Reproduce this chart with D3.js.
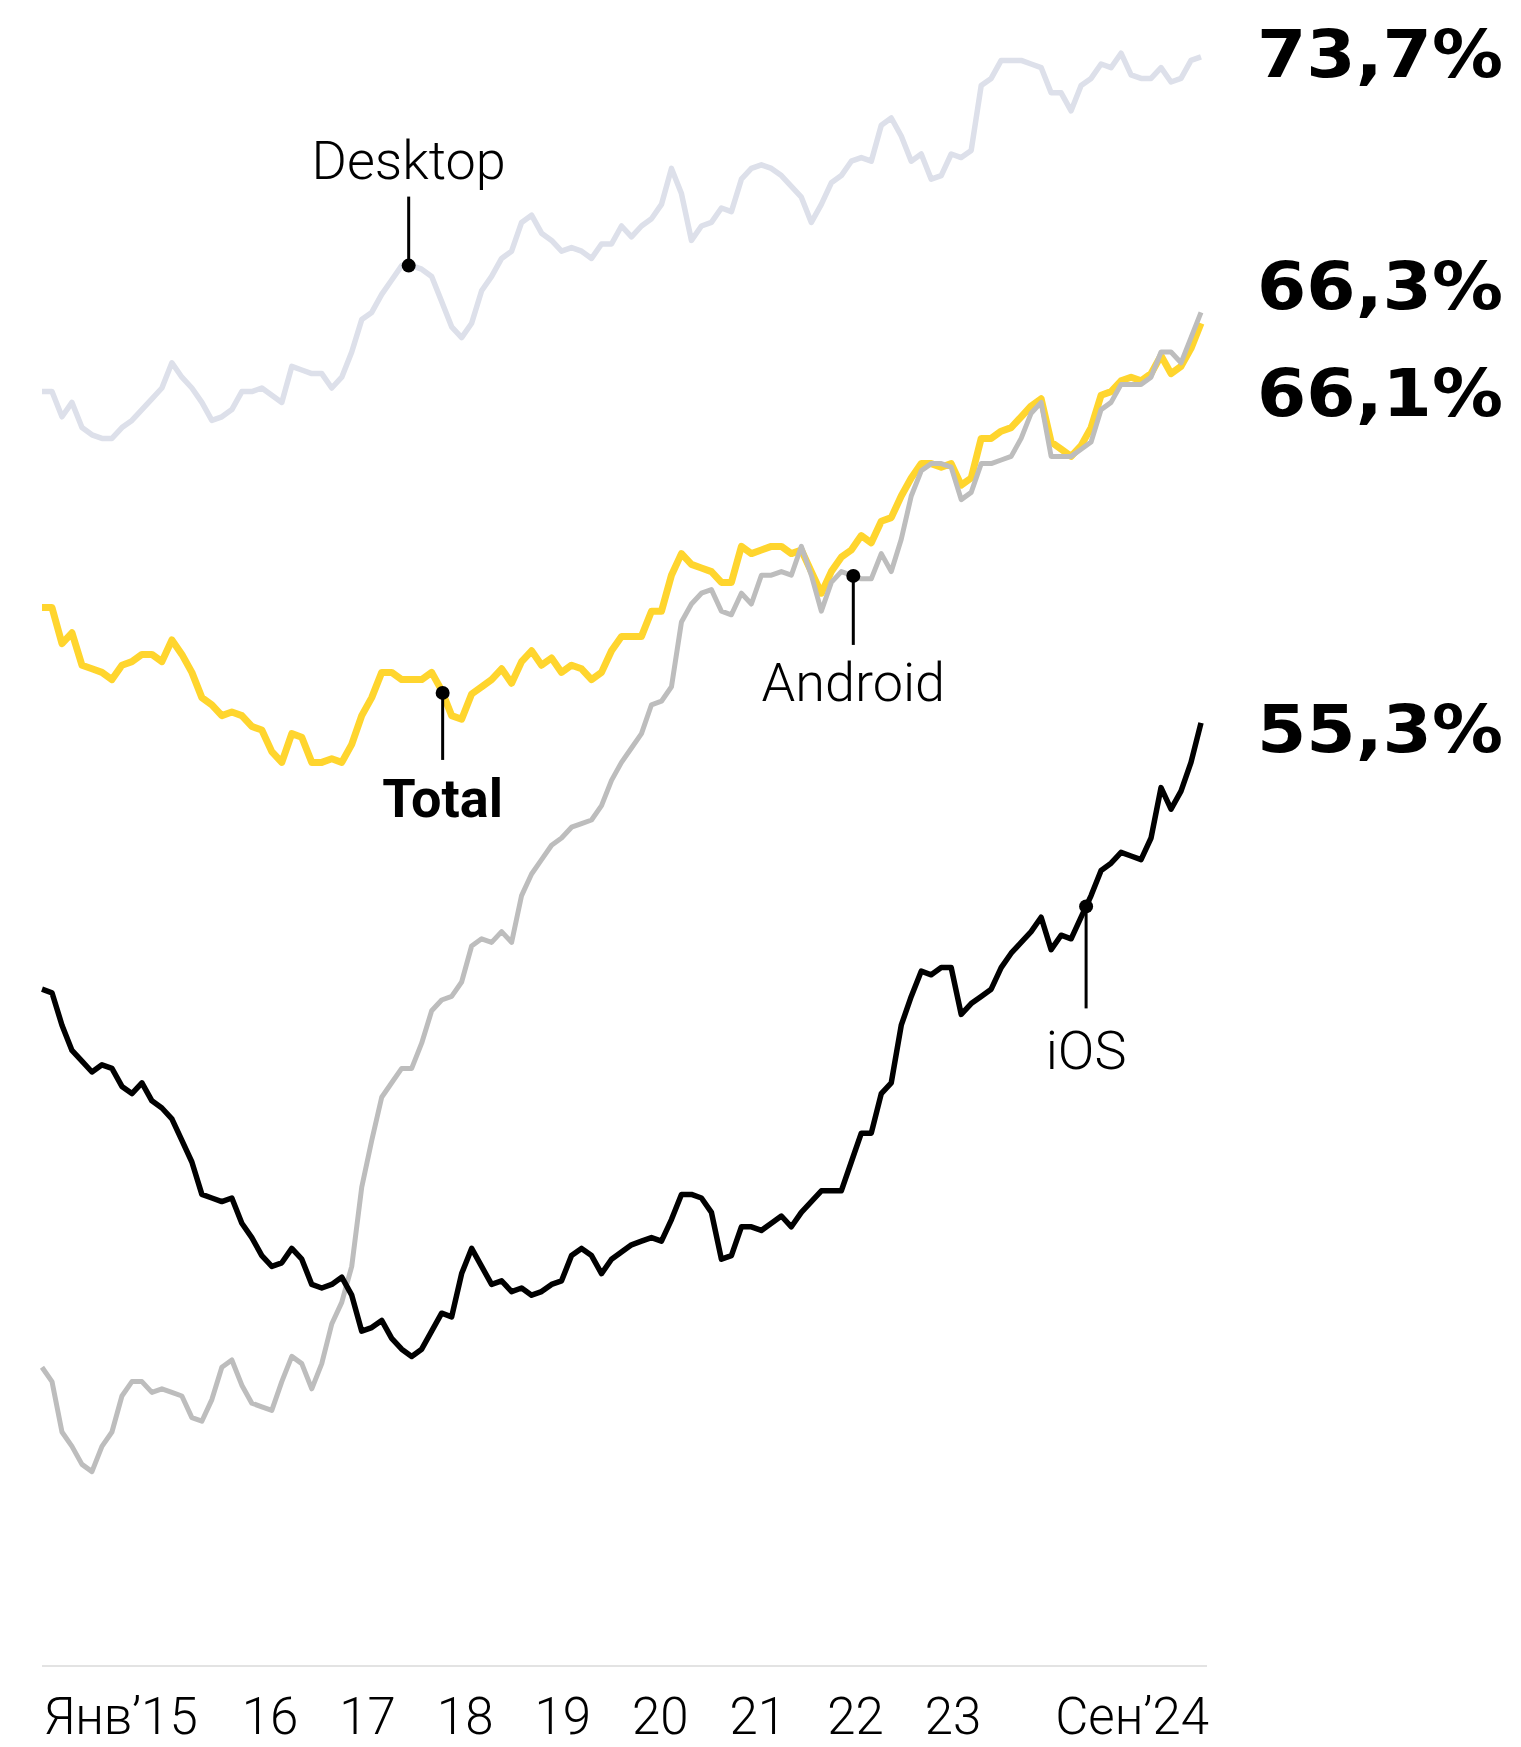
<!DOCTYPE html>
<html>
<head>
<meta charset="utf-8">
<script src="https://cdn.jsdelivr.net/npm/d3@7"></script>
<style>
  html, body { margin: 0; padding: 0; background: #fff; }
  svg { display: block; }
</style>
</head>
<body>
<svg id="chart" width="1521" height="1747"></svg>
<script>
// ---------- DATA (monthly, Jan 2015 – Sep 2024, share in %) ----------
const months = d3.utcMonth.range(new Date(Date.UTC(2015, 0, 1)), new Date(Date.UTC(2024, 9, 1)));

const desktop = [
  64.4,64.4,63.7,64.1,63.4,63.2,63.1,63.1,63.4,63.6,63.9,64.2,
  64.5,65.2,64.8,64.5,64.1,63.6,63.7,63.9,64.4,64.4,64.5,64.3,
  64.1,65.1,65.0,64.9,64.9,64.5,64.8,65.5,66.4,66.6,67.1,67.5,
  67.9,67.9,67.8,67.6,66.9,66.2,65.9,66.3,67.2,67.6,68.1,68.3,
  69.1,69.3,68.8,68.6,68.3,68.4,68.3,68.1,68.5,68.5,69.0,68.7,
  69.0,69.2,69.6,70.6,69.9,68.6,69.0,69.1,69.5,69.4,70.3,70.6,
  70.7,70.6,70.4,70.1,69.8,69.1,69.6,70.2,70.4,70.8,70.9,70.8,
  71.8,72.0,71.5,70.8,71.0,70.3,70.4,71.0,70.9,71.1,72.9,73.1,
  73.6,73.6,73.6,73.5,73.4,72.7,72.7,72.2,72.9,73.1,73.5,73.4,
  73.8,73.2,73.1,73.1,73.4,73.0,73.1,73.6,73.7
];

const total = [
  58.4,58.4,57.4,57.7,56.8,56.7,56.6,56.4,56.8,56.9,57.1,57.1,
  56.9,57.5,57.1,56.6,55.9,55.7,55.4,55.5,55.4,55.1,55.0,54.4,
  54.1,54.9,54.8,54.1,54.1,54.2,54.1,54.6,55.4,55.9,56.6,56.6,
  56.4,56.4,56.4,56.6,56.1,55.4,55.3,56.0,56.2,56.4,56.7,56.3,
  56.9,57.2,56.8,57.0,56.6,56.8,56.7,56.4,56.6,57.2,57.6,57.6,
  57.6,58.3,58.3,59.3,59.9,59.6,59.5,59.4,59.1,59.1,60.1,59.9,
  60.0,60.1,60.1,59.9,60.0,59.4,58.8,59.4,59.8,60.0,60.4,60.2,
  60.8,60.9,61.5,62.0,62.4,62.4,62.3,62.4,61.8,62.0,63.1,63.1,
  63.3,63.4,63.7,64.0,64.2,63.0,62.8,62.6,62.9,63.4,64.3,64.4,
  64.7,64.8,64.7,64.9,65.4,64.9,65.1,65.6,66.3
];

const android = [
  37.3,36.9,35.5,35.1,34.6,34.4,35.1,35.5,36.5,36.9,36.9,36.6,
  36.7,36.6,36.5,35.9,35.8,36.4,37.3,37.5,36.8,36.3,36.2,36.1,
  36.9,37.6,37.4,36.7,37.4,38.5,39.1,40.1,42.3,43.6,44.8,45.2,
  45.6,45.6,46.3,47.2,47.5,47.6,48.0,49.0,49.2,49.1,49.4,49.1,
  50.4,51.0,51.4,51.8,52.0,52.3,52.4,52.5,52.9,53.6,54.1,54.5,
  54.9,55.7,55.8,56.2,58.0,58.5,58.8,58.9,58.3,58.2,58.8,58.5,
  59.3,59.3,59.4,59.3,60.1,59.3,58.3,59.1,59.4,59.3,59.2,59.2,
  59.9,59.4,60.3,61.5,62.2,62.4,62.4,62.3,61.4,61.6,62.4,62.4,
  62.5,62.6,63.1,63.8,64.1,62.6,62.6,62.6,62.8,63.0,63.9,64.1,
  64.6,64.6,64.6,64.8,65.5,65.5,65.2,65.9,66.6
];

const ios = [
  47.8,47.7,46.8,46.1,45.8,45.5,45.7,45.6,45.1,44.9,45.2,44.7,
  44.5,44.2,43.6,43.0,42.1,42.0,41.9,42.0,41.3,40.9,40.4,40.1,
  40.2,40.6,40.3,39.6,39.5,39.6,39.8,39.3,38.3,38.4,38.6,38.1,
  37.8,37.6,37.8,38.3,38.8,38.7,39.9,40.6,40.1,39.6,39.7,39.4,
  39.5,39.3,39.4,39.6,39.7,40.4,40.6,40.4,39.9,40.3,40.5,40.7,
  40.8,40.9,40.8,41.4,42.1,42.1,42.0,41.6,40.3,40.4,41.2,41.2,
  41.1,41.3,41.5,41.2,41.6,41.9,42.2,42.2,42.2,43.0,43.8,43.8,
  44.9,45.2,46.8,47.6,48.3,48.2,48.4,48.4,47.1,47.4,47.6,47.8,
  48.4,48.8,49.1,49.4,49.8,48.9,49.3,49.2,49.8,50.4,51.1,51.3,
  51.6,51.5,51.4,52.0,53.4,52.8,53.3,54.1,55.2
];

const endLabels = ["73,7%", "66,3%", "66,1%", "55,3%"];
const endLabelBaselines = [77, 309, 416, 752];

const firstTick = "Янв’15";
const midTicks = ["16", "17", "18", "19", "20", "21", "22", "23"];
const lastTick = "Сен’24";

// annotation positions (fractional month index)
const notes = [
  { name: "Desktop", series: "desktop", at: 36.7,  side: "above", bold: false, lineLen: 69,  textOff: 87 },
  { name: "Total",   series: "total",   at: 40.1,  side: "below", bold: true,  lineLen: 67,  textOff: 124 },
  { name: "Android", series: "android", at: 81.2,  side: "below", bold: false, lineLen: 69,  textOff: 125 },
  { name: "iOS",     series: "ios",     at: 104.5, side: "below", bold: false, lineLen: 102, textOff: 163 }
];

// ---------- CHART ----------
const svg = d3.select("#chart");

const x = d3.scaleLinear().domain([0, months.length - 1]).range([42, 1201]);
const y = d3.scaleLinear().domain([29, 29 + 1666 / 36]).range([1666, 0]);

const seriesMap = { desktop, total, android, ios };
const styles = [
  { key: "desktop", color: "#dde0ea", width: 5.5 },
  { key: "total",   color: "#ffd52e", width: 7 },
  { key: "android", color: "#bdbdbd", width: 5 },
  { key: "ios",     color: "#000000", width: 5.5 }
];

// baseline axis line
svg.append("line")
  .attr("x1", 42).attr("x2", 1207)
  .attr("y1", y(29)).attr("y2", y(29))
  .attr("stroke", "#e3e3e3").attr("stroke-width", 2);

const line = d3.line().x((d, i) => x(i)).y(d => y(d));

svg.append("g").selectAll("path")
  .data(styles)
  .join("path")
  .attr("d", s => line(seriesMap[s.key]))
  .attr("fill", "none")
  .attr("stroke", s => s.color)
  .attr("stroke-width", s => s.width)
  .attr("stroke-linejoin", "round");

// annotations
function valueAt(arr, f) {
  const i0 = Math.floor(f), i1 = Math.min(arr.length - 1, i0 + 1);
  return arr[i0] + (arr[i1] - arr[i0]) * (f - i0);
}
const FONT = "Roboto, 'Noto Sans', 'DejaVu Sans', sans-serif";
const ng = svg.append("g");
notes.forEach(n => {
  const cx = x(n.at);
  const cy = y(valueAt(seriesMap[n.series], n.at));
  const dir = n.side === "above" ? -1 : 1;
  ng.append("line")
    .attr("x1", cx).attr("x2", cx).attr("y1", cy).attr("y2", cy + dir * n.lineLen)
    .attr("stroke", "#000").attr("stroke-width", 3);
  ng.append("circle").attr("cx", cx).attr("cy", cy).attr("r", 7).attr("fill", "#000");
  ng.append("text")
    .attr("x", cx).attr("y", cy + dir * n.textOff)
    .attr("text-anchor", "middle")
    .attr("font-family", FONT)
    .attr("font-size", 54)
    .attr("font-weight", n.bold ? 700 : 300)
    .attr("fill", "#000")
    .text(n.name);
});

// end value labels
svg.append("g").selectAll("text")
  .data(endLabels)
  .join("text")
  .attr("x", 1257)
  .attr("y", (d, i) => endLabelBaselines[i])
  .attr("font-family", "'DejaVu Sans', Verdana, sans-serif")
  .attr("font-weight", 700)
  .attr("font-size", 66)
  .attr("textLength", 246)
  .attr("lengthAdjust", "spacingAndGlyphs")
  .attr("fill", "#000")
  .text(d => d);

// x-axis labels
const tickY = 1734;
const tx = d3.scalePoint().domain(midTicks).range([270, 953]);
const ag = svg.append("g")
  .attr("font-family", FONT)
  .attr("font-size", 51)
  .attr("font-weight", 300)
  .attr("fill", "#000");
ag.append("text").attr("x", 44).attr("y", tickY).attr("text-anchor", "start").text(firstTick);
ag.selectAll("text.mid")
  .data(midTicks)
  .join("text")
  .attr("class", "mid")
  .attr("x", d => tx(d)).attr("y", tickY)
  .attr("text-anchor", "middle")
  .text(d => d);
ag.append("text").attr("x", 1209).attr("y", tickY).attr("text-anchor", "end").text(lastTick);
</script>
</body>
</html>
